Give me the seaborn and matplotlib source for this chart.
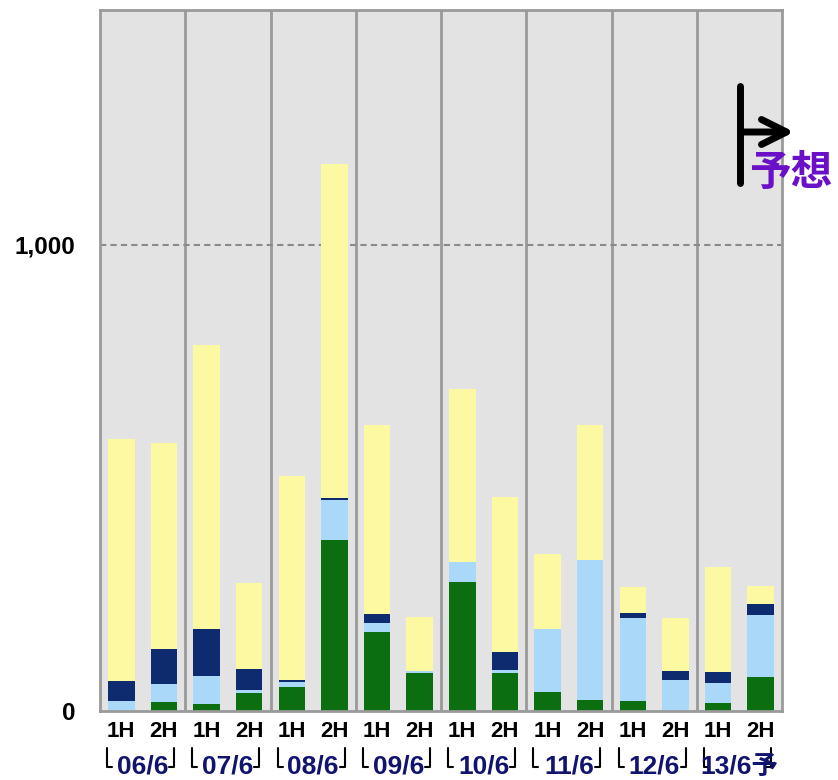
import numpy as np
import pandas as pd
import matplotlib.pyplot as plt
from matplotlib.lines import Line2D
from matplotlib.patches import FancyArrowPatch
import seaborn as sns

# half-year bars, eight fiscal years
halves = ["1H", "2H"] * 8
years = ["06/6", "07/6", "08/6", "09/6", "10/6", "11/6", "12/6", "13/6予"]

# stacked segments, bottom to top
green = [0, 20, 15, 39, 52, 367, 169, 81, 277, 82, 41, 24, 22, 0, 18, 72]
light_blue = [21, 38, 61, 6, 11, 86, 19, 5, 42, 7, 134, 299, 177, 66, 43, 134]
navy = [44, 74, 101, 46, 3, 5, 20, 0, 0, 37, 0, 0, 12, 20, 22, 23]
yellow = [518, 444, 608, 183, 438, 716, 406, 115, 372, 334, 162, 291, 56, 113, 227, 40]

colors = {"green": "#0b6e10", "light_blue": "#aad8f8", "navy": "#0d2b6e", "yellow": "#fdf9a2"}
FONT = ["Liberation Sans", "Noto Sans CJK JP", "DejaVu Sans"]


def main():
    df = pd.DataFrame({"pos": np.arange(len(halves)), "half": halves,
                       "green": green, "light_blue": light_blue,
                       "navy": navy, "yellow": yellow})
    df["c_green"] = df["green"]
    df["c_light_blue"] = df["c_green"] + df["light_blue"]
    df["c_navy"] = df["c_light_blue"] + df["navy"]
    df["c_yellow"] = df["c_navy"] + df["yellow"]
    return df


if __name__ == "__main__":
    df = main()
    sns.set_style("white")
    plt.rcParams["font.family"] = FONT
    plt.rcParams["text.color"] = "black"

    fig = plt.figure(figsize=(8.38, 7.8), dpi=100)
    ax = fig.add_axes([100 / 838, 1 - 711 / 780, 682 / 838, 701 / 780])
    ax.set_facecolor("#e3e3e3")

    # draw tallest cumulative first so shorter ones sit on top
    for layer in ["yellow", "navy", "light_blue", "green"]:
        sns.barplot(data=df, x="pos", y="c_" + layer, color=colors[layer],
                    width=0.62, linewidth=0, saturation=1, ax=ax)

    ax.set_xlim(-0.5, 15.5)
    ax.set_ylim(0, 1504)
    ax.set_xlabel("")
    ax.set_ylabel("")

    for b in np.arange(1.5, 15, 2):
        ax.axvline(b, color="#9a9a9a", lw=2, zorder=0.5)
    ax.axhline(1000, color="#8a8a8a", lw=1.5, ls=(0, (3, 2)), zorder=0.6)

    for s in ax.spines.values():
        s.set_color("#9a9a9a")
        s.set_linewidth(2)

    ax.set_yticks([0, 1000])
    ax.set_yticklabels(["0", "1,000"], fontsize=17.5, fontweight="bold")
    ax.tick_params(axis="y", length=6, color="#9a9a9a", width=1.5, pad=12,
                   labelcolor="black")

    ax.set_xticks(np.arange(16))
    ax.set_xticklabels(df["half"], fontsize=16, fontweight="bold")
    ax.set_xticks(np.arange(-0.5, 16, 2), minor=True)
    ax.tick_params(axis="x", which="major", length=0, pad=7, labelcolor="black")
    ax.tick_params(axis="x", which="minor", length=7, color="#9a9a9a", width=2)

    tr = ax.get_xaxis_transform()
    px = 1 / 42.625  # one pixel in data units along x
    y_top = -(748 - 711) / 701
    y_bot = -(767 - 711) / 701
    for i, yr in enumerate(years):
        left = 2 * i - 0.5
        ax.text(2 * i + 0.5, -(779 - 711) / 701, yr, transform=tr,
                ha="center", va="bottom", fontsize=19, fontweight="bold",
                color="#10146e", family=FONT)
        bx = left + 7 * px
        ax.plot([bx, bx, bx + 5 * px], [y_top, y_bot, y_bot], transform=tr,
                color="black", lw=1.5, clip_on=False)
        ex = left + 74 * px
        ax.plot([ex, ex, ex - 5 * px], [y_top, y_bot, y_bot], transform=tr,
                color="black", lw=1.5, clip_on=False)

    # forecast marker
    fig.add_artist(Line2D([740 / 838, 740 / 838], [1 - 86 / 780, 1 - 183 / 780],
                          color="black", lw=5, transform=fig.transFigure))
    fig.add_artist(FancyArrowPatch(
        (740 / 838, 1 - 132 / 780), (797 / 838, 1 - 132 / 780),
        arrowstyle="->,head_length=0.6,head_width=0.3", color="black",
        lw=5, mutation_scale=30, transform=fig.transFigure))
    fig.text(791 / 838, 1 - 173 / 780, "予想", ha="center", va="center",
             fontsize=30, fontweight="bold", color="#6a10c8",
             family=["Noto Sans CJK JP", "DejaVu Sans"])

    fig.savefig("out.png", dpi=100)
